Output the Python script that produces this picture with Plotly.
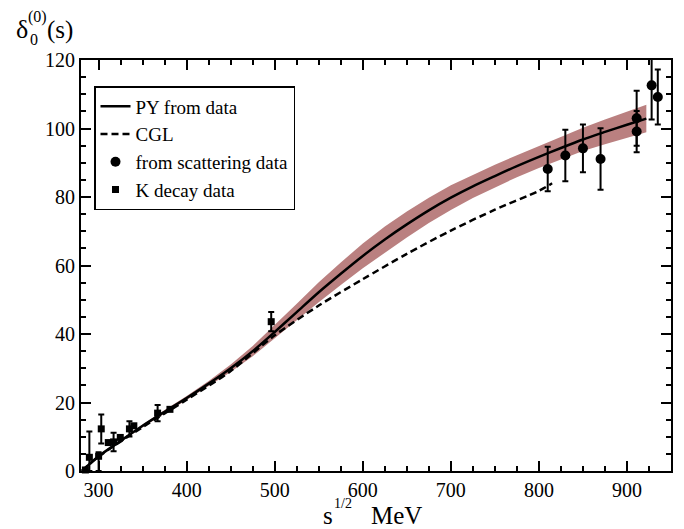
import plotly.graph_objects as go

# ---- data ----
# PY from data (solid curve) with uncertainty band half-width
py_s = [281, 300, 325, 350, 375, 400, 425, 450, 475, 500, 525, 550, 575, 600, 625, 650,
        675, 700, 725, 750, 775, 800, 825, 850, 875, 900, 922]
py_d = [0.0, 4.3, 8.8, 13.2, 17.3, 21.3, 25.5, 30.0, 35.0, 40.6, 46.4, 52.2, 57.6, 62.8,
        67.6, 72.0, 76.1, 79.8, 83.1, 86.1, 89.0, 91.7, 94.3, 96.8, 99.0, 101.1, 102.9]
py_err = [0.2, 0.3, 0.3, 0.4, 0.5, 0.6, 0.8, 1.1, 1.5, 1.9, 2.4, 2.9, 3.3, 3.6,
          3.8, 3.8, 3.7, 3.6, 3.4, 3.3, 3.2, 3.2, 3.3, 3.4, 3.6, 3.8, 4.0]

# CGL (dashed curve)
cgl_s = [281, 300, 350, 400, 450, 500, 550, 600, 650, 700, 750, 800, 815]
cgl_d = [0.0, 4.2, 12.8, 20.8, 29.2, 39.6, 48.3, 56.0, 63.4, 70.2, 76.3, 81.8, 84.0]

# from scattering data (circles)
sc_s = [810, 830, 850, 870, 911, 911, 928, 935]
sc_d = [88.2, 92.1, 94.2, 91.1, 99.1, 103.0, 112.6, 109.2]
sc_e = [6.5, 7.5, 7.0, 9.0, 6.0, 8.0, 10.0, 8.0]

# K decay data (squares)
kd_s = [285, 289.5, 300, 303, 311, 317, 324.6, 335, 340, 367, 381, 496]
kd_d = [0.3, 4.0, 4.3, 12.3, 8.3, 8.5, 9.8, 12.3, 13.2, 16.9, 18.0, 43.6]
kd_ep = [0.0, 7.5, 1.2, 4.2, 0.0, 2.7, 0.0, 2.2, 0.0, 2.4, 0.0, 2.8]
kd_em = [0.0, 4.0, 4.3, 4.3, 0.0, 2.7, 0.0, 2.2, 0.0, 2.4, 0.0, 2.8]

x_ticks = [300, 400, 500, 600, 700, 800, 900]
y_ticks = [0, 20, 40, 60, 80, 100, 120]

FONT = "Liberation Serif"

fig = go.Figure()

upper = [d + e for d, e in zip(py_d, py_err)]
lower = [d - e for d, e in zip(py_d, py_err)]
fig.add_trace(go.Scatter(x=py_s + py_s[::-1], y=upper + lower[::-1], fill="toself",
                         fillcolor="rgb(186,128,128)", line=dict(width=0),
                         mode="lines", showlegend=False, hoverinfo="skip"))

fig.add_trace(go.Scatter(x=py_s, y=py_d, mode="lines", name="PY from data",
                         line=dict(color="black", width=2.5, shape="spline", smoothing=0.8)))
fig.add_trace(go.Scatter(x=cgl_s, y=cgl_d, mode="lines", name="CGL",
                         line=dict(color="black", width=2.5, dash="7px,4px", shape="spline",
                                   smoothing=0.8)))
fig.add_trace(go.Scatter(x=sc_s, y=sc_d, mode="markers", name="from scattering data",
                         marker=dict(symbol="circle", size=10, color="black"),
                         error_y=dict(type="data", array=sc_e, color="black", thickness=2, width=3)))
fig.add_trace(go.Scatter(x=kd_s, y=kd_d, mode="markers", name="K decay data",
                         marker=dict(symbol="square", size=7, color="black"),
                         error_y=dict(type="data", symmetric=False, array=kd_ep, arrayminus=kd_em,
                                      color="black", thickness=2, width=3),
                         cliponaxis=False))

axis_common = dict(showline=True, linecolor="black", linewidth=2, mirror="allticks",
                   ticks="inside", ticklen=10, tickwidth=2, tickcolor="black",
                   showgrid=False, zeroline=False,
                   tickfont=dict(family=FONT, size=20, color="black"))

fig.update_xaxes(range=[280, 950], tickvals=x_ticks,
                 minor=dict(dtick=25, tick0=300, ticks="inside", ticklen=5, tickwidth=1.5,
                            tickcolor="black", showgrid=False),
                 **axis_common)
fig.update_yaxes(range=[0, 120], tickvals=y_ticks,
                 minor=dict(dtick=5, tick0=0, ticks="inside", ticklen=5, tickwidth=1.5,
                            tickcolor="black", showgrid=False),
                 **axis_common)

W, H = 684, 529
L, R, T, B = 73, 21, 52, 66
pw, ph = W - L - R, H - T - B

def px(x):
    return (x - L) / pw

def py(y):
    return (H - B - y) / ph

ann = [
    dict(text="δ", x=px(7), y=py(37), size=26),
    dict(text="0", x=px(21), y=py(41), size=16),
    dict(text="(0)", x=px(19), y=py(19), size=16),
    dict(text="(s)", x=px(38), y=py(37), size=25),
    dict(text="s", x=px(314), y=py(522), size=25),
    dict(text="1/2", x=px(325), y=py(504), size=14),
    dict(text="MeV", x=px(362), y=py(522), size=25),
]
fig.update_layout(annotations=[
    dict(text=a["text"], x=a["x"], y=a["y"], xref="paper", yref="paper",
         xanchor="left", yanchor="bottom", showarrow=False, borderpad=0,
         font=dict(family=FONT, size=a["size"], color="black"))
    for a in ann
])

fig.update_layout(
    width=W, height=H,
    margin=dict(l=L, r=R, t=T, b=B),
    plot_bgcolor="white", paper_bgcolor="white",
    font=dict(family=FONT, color="black"),
    legend=dict(x=px(86), y=py(78), xanchor="left", yanchor="top",
                bordercolor="black", borderwidth=1.5, bgcolor="white",
                font=dict(family=FONT, size=19, color="black"),
                tracegroupgap=0, itemwidth=30),
)

fig.write_html("out.html")
